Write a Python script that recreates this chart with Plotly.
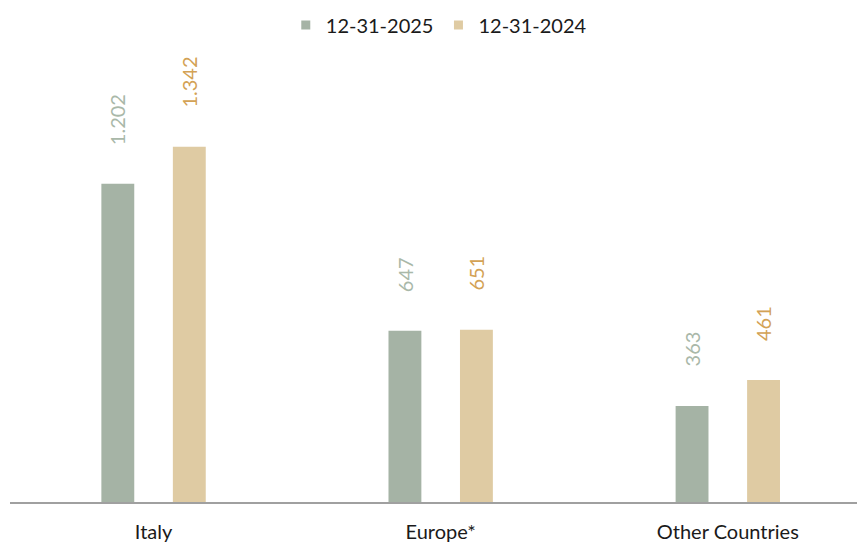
import plotly.graph_objects as go

categories = ["Italy", "Europe*", "Other Countries"]
values_2025 = [1202, 647, 363]
values_2024 = [1342, 651, 461]
labels_2025 = ["1.202", "647", "363"]
labels_2024 = ["1.342", "651", "461"]
series_names = ["12-31-2025", "12-31-2024"]

bar_colors = ["#A5B3A5", "#DFCBA3"]
label_colors = ["#A9B8A9", "#D3A255"]
FONT = "Lato, 'Open Sans', sans-serif"

BARGAP = 0.502
SLOT = (1 - BARGAP) / 2

fig = go.Figure()
for name, vals, bc in zip(series_names, [values_2025, values_2024], bar_colors):
    fig.add_trace(go.Bar(x=categories, y=vals, name=name, marker_color=bc,
                         marker_line_width=0, showlegend=False))
# legend proxies with small square markers
for name, bc in zip(series_names, bar_colors):
    fig.add_trace(go.Scatter(x=[None], y=[None], mode="markers", name=name,
                             marker=dict(symbol="square", size=9, color=bc),
                             showlegend=True))

# value labels above bars (rotated)
offsets = [-0.5, 0.5]
for vals, labs, lc, off in zip([values_2025, values_2024], [labels_2025, labels_2024], label_colors, offsets):
    for i, (v, t) in enumerate(zip(vals, labs)):
        fig.add_annotation(x=i + off * SLOT, y=v, xref="x", yref="y", text=t,
                           textangle=-90, showarrow=False, yanchor="bottom",
                           xanchor="center", yshift=37,
                           font=dict(family=FONT, size=20, color=lc))

fig.update_layout(
    width=857, height=545,
    margin=dict(l=10, r=0, t=60, b=43),
    paper_bgcolor="white", plot_bgcolor="white",
    barmode="group", bargap=BARGAP, bargroupgap=0.54,
    font=dict(family=FONT, size=20, color="#1a1a1a"),
    legend=dict(orientation="h", x=0.512, xanchor="center", xref="container",
                y=1 - 25 / 545, yanchor="middle", yref="container",
                font=dict(family=FONT, size=20, color="#1a1a1a"),
                itemwidth=30, traceorder="normal"),
    showlegend=True,
)
fig.update_xaxes(range=[-0.5, 2.45], showline=True, linecolor="#A0A0A0", linewidth=2,
                 showgrid=False, ticks="", ticklabelstandoff=11, automargin=False,
                 tickfont=dict(family=FONT, size=20, color="#1a1a1a"))
fig.update_yaxes(range=[0, 1670], visible=False, showgrid=False, zeroline=False)

fig.write_html("out.html")
